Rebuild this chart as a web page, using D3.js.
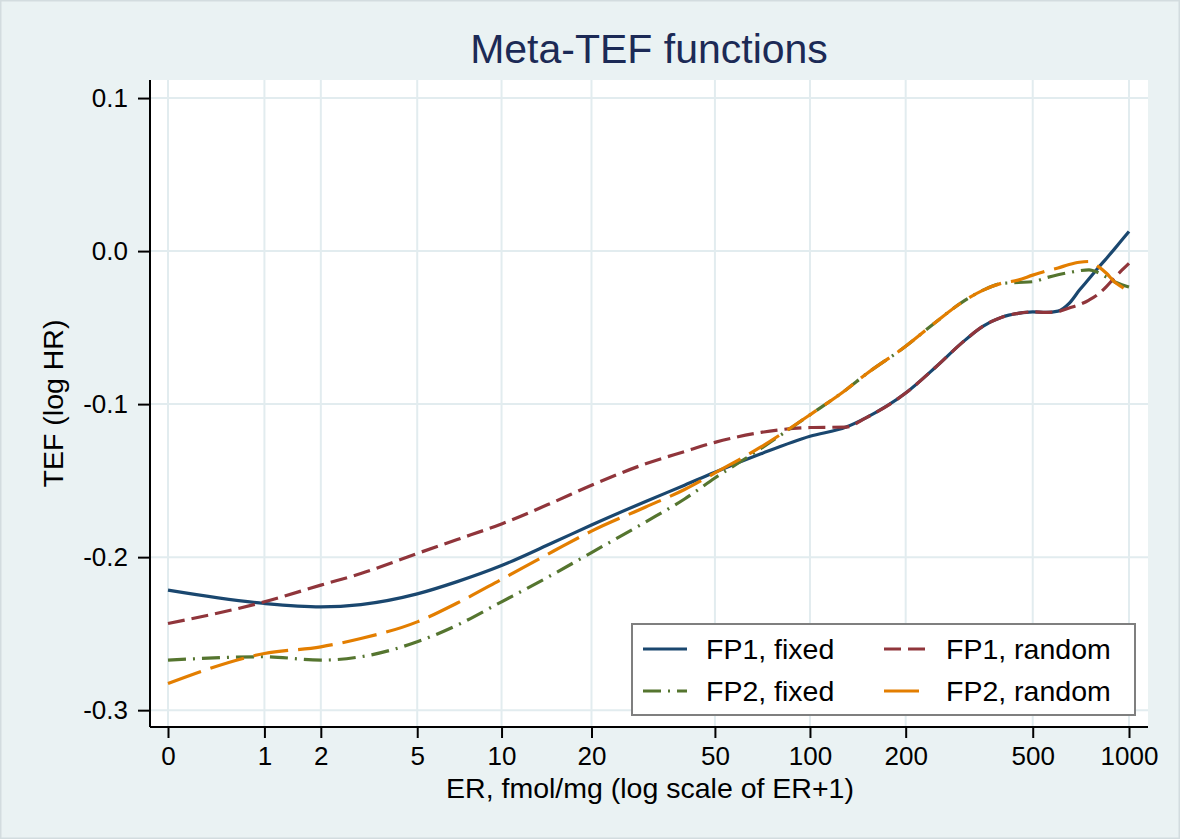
<!DOCTYPE html>
<html>
<head>
<meta charset="utf-8">
<script src="https://cdn.jsdelivr.net/npm/d3@7"></script>
<style>
  html, body { margin: 0; padding: 0; background: #ffffff; }
  svg { display: block; font-family: "Liberation Sans", Arial, sans-serif; }
</style>
</head>
<body>
<svg id="chart" width="1180" height="839"></svg>
<script>
// ---------------- data ----------------
const er = [0, 1, 2, 3, 5, 7, 10, 15, 20, 30, 40, 50, 70, 100, 130, 150, 200, 250, 300, 350, 400, 450, 500, 550, 600, 650, 700, 750, 800, 850, 900, 950, 1000];

const fp1Fixed = [-0.2216, -0.2303, -0.2325, -0.2310, -0.2240, -0.2160, -0.2055, -0.1903, -0.1790, -0.1636, -0.1530, -0.1445, -0.1325, -0.1210, -0.1150, -0.1090, -0.0928, -0.0753, -0.0600, -0.0490, -0.0432, -0.0407, -0.0397, -0.0400, -0.0392, -0.0342, -0.0255, -0.0181, -0.0111, -0.0048, 0.0013, 0.0072, 0.0128];

const fp1Random = [-0.2434, -0.2292, -0.2183, -0.2107, -0.1976, -0.1885, -0.1783, -0.1640, -0.1530, -0.1390, -0.1310, -0.1250, -0.1185, -0.1153, -0.1150, -0.1090, -0.0928, -0.0753, -0.0600, -0.0490, -0.0432, -0.0407, -0.0397, -0.0400, -0.0395, -0.0372, -0.0350, -0.0320, -0.0283, -0.0232, -0.0175, -0.0125, -0.0080];

const fp2Fixed = [-0.2673, -0.2651, -0.2673, -0.2651, -0.2553, -0.2444, -0.2292, -0.2110, -0.1970, -0.1770, -0.1620, -0.1483, -0.1290, -0.1070, -0.0906, -0.0805, -0.0622, -0.0460, -0.0335, -0.0255, -0.0212, -0.0205, -0.0200, -0.0175, -0.0155, -0.0140, -0.0128, -0.0123, -0.0140, -0.0170, -0.0200, -0.0220, -0.0235];

const fp2Random = [-0.2826, -0.2630, -0.2586, -0.2532, -0.2423, -0.2300, -0.2145, -0.1960, -0.1830, -0.1672, -0.1558, -0.1450, -0.1280, -0.1070, -0.0906, -0.0805, -0.0622, -0.0460, -0.0335, -0.0255, -0.0210, -0.0190, -0.0157, -0.0130, -0.0110, -0.0088, -0.0073, -0.0068, -0.0100, -0.0145, -0.0200, -0.0235, -0.0266];

const seriesNames = ["FP1, fixed", "FP1, random", "FP2, fixed", "FP2, random"];
const xTickValues = [0, 1, 2, 5, 10, 20, 50, 100, 200, 500, 1000];
const yTickValues = [0.1, 0.0, -0.1, -0.2, -0.3];
const yTickLabels = ["0.1", "0.0", "-0.1", "-0.2", "-0.3"];
const titleText = "Meta-TEF functions";
const xTitle = "ER, fmol/mg (log scale of ER+1)";
const yTitle = "TEF (log HR)";

// ---------------- layout & styles ----------------
const W = 1180, H = 839;
const plot = { left: 150, right: 1148, top: 80, bottom: 727 };
const bg = "#eaf2f3";
const gridColor = "#e2ecef";
const styles = [
  { color: "#1a476f", dash: null },
  { color: "#90353b", dash: "17,7" },
  { color: "#55752f", dash: "18,7,2,7" },
  { color: "#e37e00", dash: "35,10" }
];
const seriesValues = [fp1Fixed, fp1Random, fp2Fixed, fp2Random];

const svg = d3.select("#chart");

svg.append("rect").attr("x", 0.75).attr("y", 0.75).attr("width", W - 1.5).attr("height", H - 1.5)
  .attr("fill", bg).attr("stroke", "#d3dcdf").attr("stroke-width", 1.5);

svg.append("rect").attr("x", plot.left).attr("y", plot.top)
  .attr("width", plot.right - plot.left).attr("height", plot.bottom - plot.top)
  .attr("fill", "#ffffff");

// scales (log scale of ER+1)
const x = d3.scaleLog()
  .domain([Math.pow(10, -18 / 320.28), Math.pow(10, Math.log10(1001) + 19 / 320.28)])
  .range([plot.left, plot.right]);
const y = d3.scaleLinear().domain([-0.311, 0.1118]).range([plot.bottom, plot.top]);

// grid
const grid = svg.append("g");
grid.selectAll("line.v").data(xTickValues).join("line")
  .attr("x1", d => x(d + 1)).attr("x2", d => x(d + 1))
  .attr("y1", plot.top).attr("y2", plot.bottom)
  .attr("stroke", gridColor).attr("stroke-width", 2);
grid.selectAll("line.h").data(yTickValues).join("line")
  .attr("x1", plot.left).attr("x2", plot.right)
  .attr("y1", d => y(d)).attr("y2", d => y(d))
  .attr("stroke", gridColor).attr("stroke-width", 2);

// lines
const line = d3.line()
  .x(d => x(d[0] + 1))
  .y(d => y(d[1]))
  .curve(d3.curveMonotoneX);

seriesValues.forEach((vals, i) => {
  svg.append("path")
    .datum(er.map((e, j) => [e, vals[j]]))
    .attr("fill", "none")
    .attr("stroke", styles[i].color)
    .attr("stroke-width", 3.2)
    .attr("stroke-dasharray", styles[i].dash)
    .attr("d", line);
});

// axes
const yAxis = d3.axisLeft(y).tickValues(yTickValues)
  .tickFormat((d, i) => yTickLabels[i]).tickSizeInner(12).tickSizeOuter(0).tickPadding(10);
const gy = svg.append("g").attr("transform", `translate(${plot.left},0)`).call(yAxis);
gy.select(".domain").attr("d", `M0,${plot.top}V${plot.bottom}`).attr("stroke", "#000").attr("stroke-width", 2);
gy.selectAll(".tick line").attr("stroke", "#000").attr("stroke-width", 2);
gy.selectAll(".tick text").attr("font-size", 26).attr("fill", "#000")
  .attr("font-family", '"Liberation Sans", Arial, sans-serif');

const xAxis = d3.axisBottom(x).tickValues(xTickValues.map(d => d + 1))
  .tickFormat(d => String(Math.round(d - 1))).tickSizeInner(11).tickSizeOuter(0).tickPadding(9);
const gx = svg.append("g").attr("transform", `translate(0,${plot.bottom})`).call(xAxis);
gx.select(".domain").attr("d", `M${plot.left},0H${plot.right}`).attr("stroke", "#000").attr("stroke-width", 2);
gx.selectAll(".tick line").attr("stroke", "#000").attr("stroke-width", 2);
gx.selectAll(".tick text").attr("font-size", 26).attr("fill", "#000")
  .attr("font-family", '"Liberation Sans", Arial, sans-serif');

// titles
svg.append("text").attr("x", (plot.left + plot.right) / 2).attr("y", 63)
  .attr("text-anchor", "middle").attr("font-size", 41).attr("fill", "#1c2a56").text(titleText);
svg.append("text").attr("x", 650).attr("y", 798)
  .attr("text-anchor", "middle").attr("font-size", 28.5).attr("fill", "#000").text(xTitle);
svg.append("text").attr("transform", `translate(63,${(plot.top + plot.bottom) / 2}) rotate(-90)`)
  .attr("text-anchor", "middle").attr("font-size", 28.5).attr("fill", "#000").text(yTitle);

// legend
const lg = svg.append("g");
lg.append("rect").attr("x", 632).attr("y", 624).attr("width", 503).attr("height", 91)
  .attr("fill", "#fff").attr("stroke", "#7f7f7f").attr("stroke-width", 2);
const legPos = [
  { sx: 643, tx: 706, y: 649 },
  { sx: 884, tx: 946, y: 649 },
  { sx: 643, tx: 706, y: 691 },
  { sx: 884, tx: 946, y: 691 }
];
seriesNames.forEach((name, i) => {
  const p = legPos[i];
  lg.append("line").attr("x1", p.sx).attr("x2", p.sx + 44).attr("y1", p.y).attr("y2", p.y)
    .attr("stroke", styles[i].color).attr("stroke-width", 3.2).attr("stroke-dasharray", styles[i].dash);
  lg.append("text").attr("x", p.tx).attr("y", p.y).attr("dy", "0.36em")
    .attr("font-size", 28.5).attr("fill", "#000").text(name);
});
</script>
</body>
</html>
